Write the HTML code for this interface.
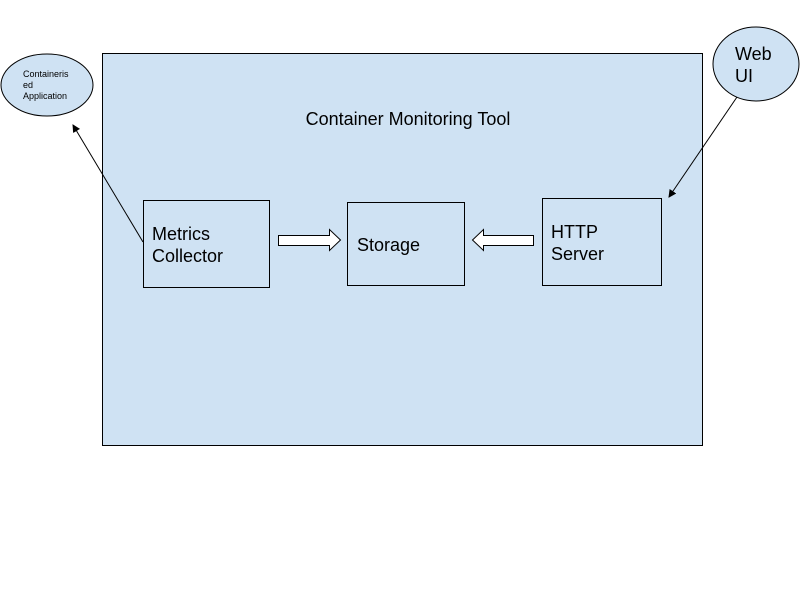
<!DOCTYPE html>
<html><head><style>
body{margin:0;width:800px;height:600px;background:#fff;overflow:hidden}
svg{display:block}
text{font-family:"Liberation Sans",Arial,sans-serif;fill:#000}
</style></head><body>
<svg width="800" height="600" viewBox="0 0 800 600">
<defs><marker id="ah" markerWidth="8" markerHeight="8" refX="7" refY="4" orient="auto" markerUnits="userSpaceOnUse"><path d="M0,0 L8,4 L0,8 z" fill="#000"/></marker></defs>
<rect x="102.5" y="53.5" width="600" height="392" fill="#cfe2f3" stroke="#000"/>
<text x="408" y="125" font-size="18" text-anchor="middle">Container Monitoring Tool</text>
<ellipse cx="47" cy="85" rx="46" ry="31" fill="#cfe2f3" stroke="#000"/>
<text x="23" y="77" font-size="9">Containeris</text>
<text x="23" y="88" font-size="9">ed</text>
<text x="23" y="99" font-size="9">Application</text>
<ellipse cx="756" cy="64" rx="43" ry="37" fill="#cfe2f3" stroke="#000"/>
<text x="735" y="60" font-size="18">Web</text>
<text x="735" y="82" font-size="18">UI</text>
<rect x="143.5" y="200.5" width="126" height="87" fill="#cfe2f3" stroke="#000"/>
<text x="152" y="240" font-size="18">Metrics</text>
<text x="152" y="262" font-size="18">Collector</text>
<rect x="347.5" y="202.5" width="117" height="83" fill="#cfe2f3" stroke="#000"/>
<text x="357" y="251" font-size="18">Storage</text>
<rect x="542.5" y="198.5" width="119" height="87" fill="#cfe2f3" stroke="#000"/>
<text x="551" y="238" font-size="18">HTTP</text>
<text x="551" y="260" font-size="18">Server</text>
<path d="M278.5,235.5 H329.5 V229.5 L340.5,240 L329.5,250.5 V245.5 H278.5 Z" fill="#fff" stroke="#000"/>
<path d="M533.5,235.5 H483.5 V229.5 L472.5,240 L483.5,250.5 V245.5 H533.5 Z" fill="#fff" stroke="#000"/>
<line x1="143" y1="242" x2="73" y2="125" stroke="#000" marker-end="url(#ah)"/>
<line x1="737" y1="97" x2="669" y2="197" stroke="#000" marker-end="url(#ah)"/>
</svg>
</body></html>
